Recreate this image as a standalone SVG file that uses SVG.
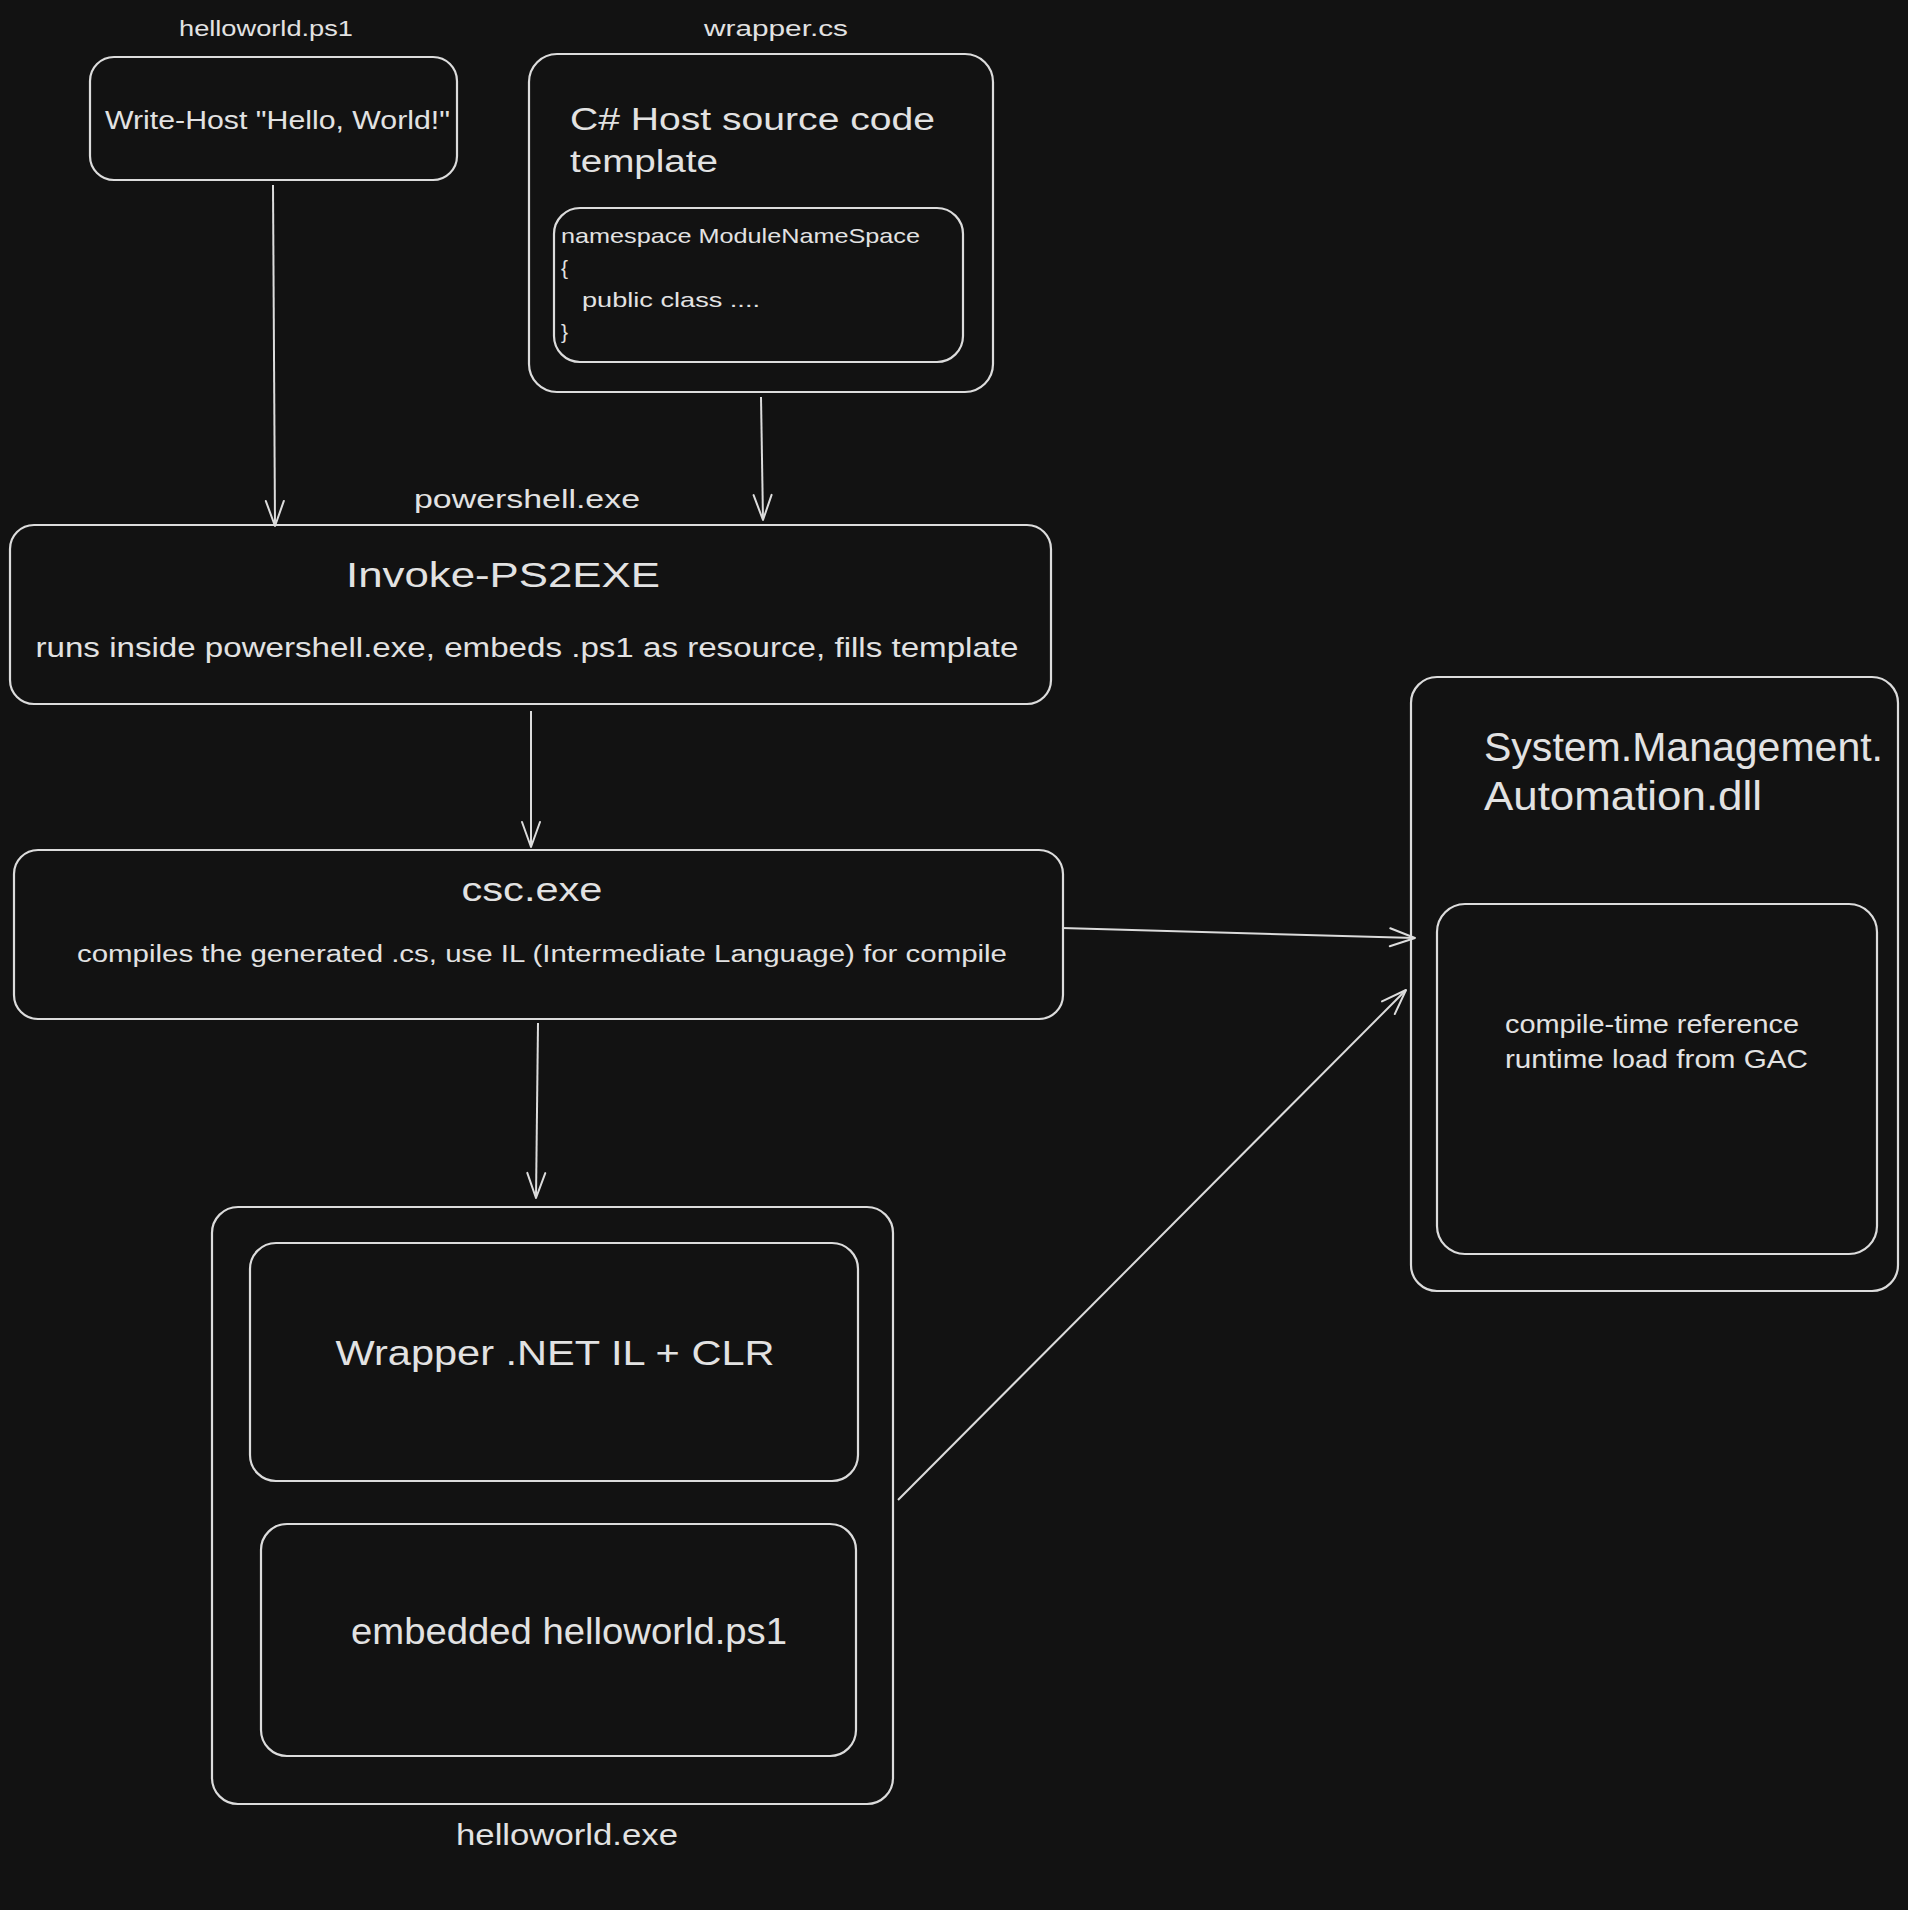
<svg xmlns="http://www.w3.org/2000/svg" width="1908" height="1910" viewBox="0 0 1908 1910">
<defs>
<style>
.box{fill:none;stroke:#dcdcdc;stroke-width:2.2}
.ln{fill:none;stroke:#dcdcdc;stroke-width:2}
text{fill:#e2e2e2;font-family:"Liberation Sans","Noto Sans",sans-serif}
.c{text-anchor:middle}
</style>
<marker id="arr" viewBox="-28 -13 30 26" markerWidth="30" markerHeight="26" refX="0" refY="0" markerUnits="userSpaceOnUse" orient="auto">
<path d="M-25 -9 L0 0 L-25 9" fill="none" stroke="#dcdcdc" stroke-width="2" stroke-linecap="round" stroke-linejoin="round"/>
</marker>
</defs>
<rect width="1908" height="1910" fill="#121212"/>

<g id="helloworld-ps1">
<text x="266" y="36" class="c" font-size="22" textLength="174" lengthAdjust="spacingAndGlyphs">helloworld.ps1</text>
<rect class="box" x="90" y="57" width="367" height="123" rx="24"/>
<text x="105" y="129" font-size="25" textLength="345" lengthAdjust="spacingAndGlyphs">Write-Host "Hello, World!"</text>
</g>

<g id="wrapper-cs">
<text x="776" y="36" class="c" font-size="22" textLength="144" lengthAdjust="spacingAndGlyphs">wrapper.cs</text>
<rect class="box" x="529" y="54" width="464" height="338" rx="28"/>
<text x="570" y="130" font-size="31" textLength="365" lengthAdjust="spacingAndGlyphs">C# Host source code</text>
<text x="570" y="172" font-size="31" textLength="148" lengthAdjust="spacingAndGlyphs">template</text>
<g id="code-template">
<rect class="box" x="554" y="208" width="409" height="154" rx="26"/>
<text x="561" y="243" font-size="21" textLength="359" lengthAdjust="spacingAndGlyphs">namespace ModuleNameSpace</text>
<text x="561" y="275" font-size="21">{</text>
<text x="582" y="307" font-size="21" textLength="178" lengthAdjust="spacingAndGlyphs">public class ....</text>
<text x="561" y="339" font-size="21">}</text>
</g>
</g>

<g id="invoke-ps2exe">
<text x="527" y="508" class="c" font-size="25" textLength="226" lengthAdjust="spacingAndGlyphs">powershell.exe</text>
<rect class="box" x="10" y="525" width="1041" height="179" rx="24"/>
<text x="503" y="587" class="c" font-size="35" textLength="314" lengthAdjust="spacingAndGlyphs">Invoke-PS2EXE</text>
<text x="527" y="657" class="c" font-size="27" textLength="983" lengthAdjust="spacingAndGlyphs">runs inside powershell.exe, embeds .ps1 as resource, fills template</text>
</g>

<g id="csc-exe">
<rect class="box" x="14" y="850" width="1049" height="169" rx="24"/>
<text x="532" y="901" class="c" font-size="33" textLength="141" lengthAdjust="spacingAndGlyphs">csc.exe</text>
<text x="542" y="962" class="c" font-size="23" textLength="930" lengthAdjust="spacingAndGlyphs">compiles the generated .cs, use IL (Intermediate Language) for compile</text>
</g>

<g id="helloworld-exe">
<rect class="box" x="212" y="1207" width="681" height="597" rx="26"/>
<g id="wrapper-il">
<rect class="box" x="250" y="1243" width="608" height="238" rx="26"/>
<text x="555" y="1365" class="c" font-size="35" textLength="439" lengthAdjust="spacingAndGlyphs">Wrapper .NET IL + CLR</text>
</g>
<g id="embedded-ps1">
<rect class="box" x="261" y="1524" width="595" height="232" rx="26"/>
<text x="569" y="1644" class="c" font-size="36" textLength="436" lengthAdjust="spacingAndGlyphs">embedded helloworld.ps1</text>
</g>
<text x="567" y="1845" class="c" font-size="30" textLength="222" lengthAdjust="spacingAndGlyphs">helloworld.exe</text>
</g>

<g id="sma-dll">
<rect class="box" x="1411" y="677" width="487" height="614" rx="26"/>
<text x="1484" y="761" font-size="40" textLength="399" lengthAdjust="spacingAndGlyphs">System.Management.</text>
<text x="1484" y="810" font-size="40" textLength="278" lengthAdjust="spacingAndGlyphs">Automation.dll</text>
<g id="gac-note">
<rect class="box" x="1437" y="904" width="440" height="350" rx="28"/>
<text x="1505" y="1033" font-size="26" textLength="294" lengthAdjust="spacingAndGlyphs">compile-time reference</text>
<text x="1505" y="1068" font-size="26" textLength="303" lengthAdjust="spacingAndGlyphs">runtime load from GAC</text>
</g>
</g>

<g id="connectors">
<path class="ln" d="M273 185 L275 526" marker-end="url(#arr)"/>
<path class="ln" d="M761 397 L763 520" marker-end="url(#arr)"/>
<path class="ln" d="M531 711 L531 847" marker-end="url(#arr)"/>
<path class="ln" d="M538 1023 L536 1198" marker-end="url(#arr)"/>
<path class="ln" d="M1062 928 L1415 938" marker-end="url(#arr)"/>
<path class="ln" d="M898 1500 L1406 990" marker-end="url(#arr)"/>
</g>
</svg>
